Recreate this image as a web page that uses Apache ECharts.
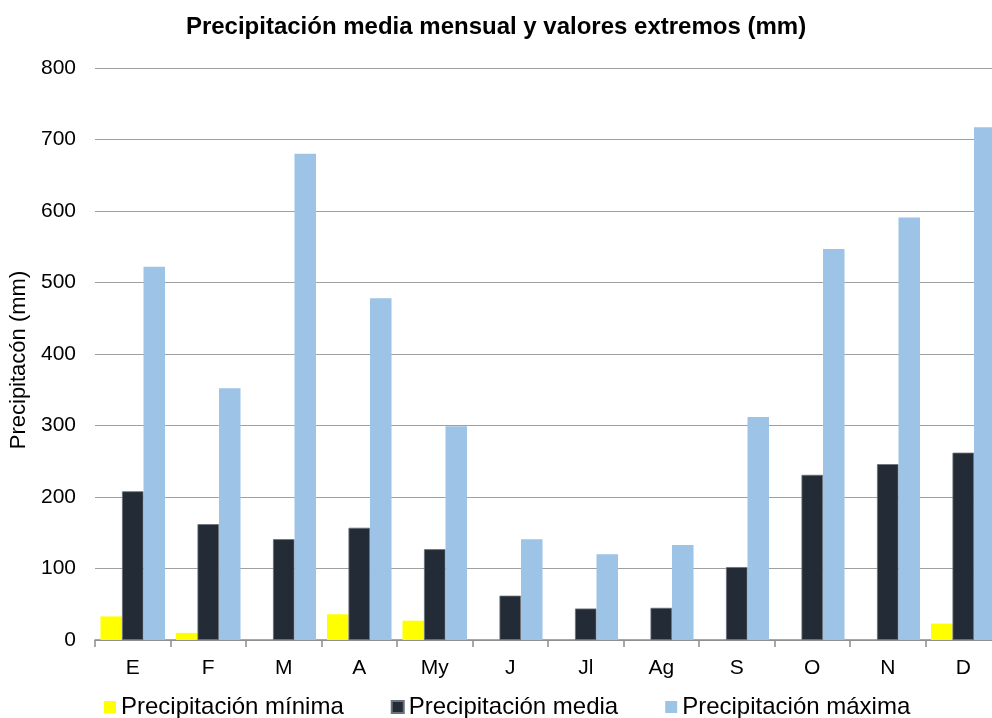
<!DOCTYPE html>
<html><head><meta charset="utf-8">
<script src="https://cdn.jsdelivr.net/npm/echarts@6/dist/echarts.min.js"></script>
<style>html,body{margin:0;padding:0;background:#fff}#c{width:992px;height:718px}</style>
</head><body><div id="c"></div>
<script>
var categories = ['E','F','M','A','My','J','Jl','Ag','S','O','N','D'];
var minima = [33, 10, null, 36, 27, null, null, null, null, null, null, 23];
var media = [208, 162, 141, 157, 127, 62, 44, 45, 102, 231, 246, 262];
var maxima = [522, 352, 680, 478, 299, 141, 120, 133, 312, 547, 591, 717];
var yTicks = {min: 0, max: 800, interval: 100};

var font = '"Liberation Sans", Arial, sans-serif';
var chart = echarts.init(document.getElementById('c'), null, {renderer: 'canvas'});
chart.setOption({
  animation: false,
  title: {text: 'Precipitación media mensual y valores extremos (mm)', left: 'center', top: 10,
    textStyle: {fontFamily: font, fontSize: 24, fontWeight: 'bold', color: '#000'}},
  grid: {left: 95, top: 68, width: 906, height: 572, containLabel: false, outerBoundsMode: 'none'},
  legend: {top: 690, left: 99, itemWidth: 12, itemHeight: 12, itemGap: 47, icon: 'rect',
    textStyle: {fontFamily: font, fontSize: 24, color: '#000'},
    data: ['Precipitación mínima','Precipitación media','Precipitación máxima']},
  xAxis: {type: 'category', data: categories,
    axisLine: {lineStyle: {color: '#8c8c8c', width: 1.5}},
    axisTick: {show: true, length: 7, lineStyle: {color: '#8c8c8c', width: 1.5}},
    axisLabel: {fontFamily: font, fontSize: 21, color: '#000', margin: 18}},
  yAxis: {type: 'value', min: yTicks.min, max: yTicks.max, interval: yTicks.interval,
    name: 'Precipitacón (mm)', nameLocation: 'middle', nameGap: 59,
    nameTextStyle: {fontFamily: font, fontSize: 22, color: '#000', padding: [0, 12, 0, 0]},
    axisLine: {show: false}, axisTick: {show: false},
    axisLabel: {fontFamily: font, fontSize: 21, color: '#000', margin: 19},
    splitLine: {lineStyle: {color: '#a0a0a0', width: 1}}},
  series: [
    {name: 'Precipitación mínima', type: 'bar', data: minima, barGap: '0%', barCategoryGap: '14.5%',
      itemStyle: {color: '#ffff00'}},
    {name: 'Precipitación media', type: 'bar', data: media, barGap: '0%',
      itemStyle: {color: '#232b36', borderColor: '#6b7079', borderWidth: 0.8}},
    {name: 'Precipitación máxima', type: 'bar', data: maxima, barGap: '0%',
      itemStyle: {color: '#9dc3e6'}}
  ]
});
</script></body></html>
